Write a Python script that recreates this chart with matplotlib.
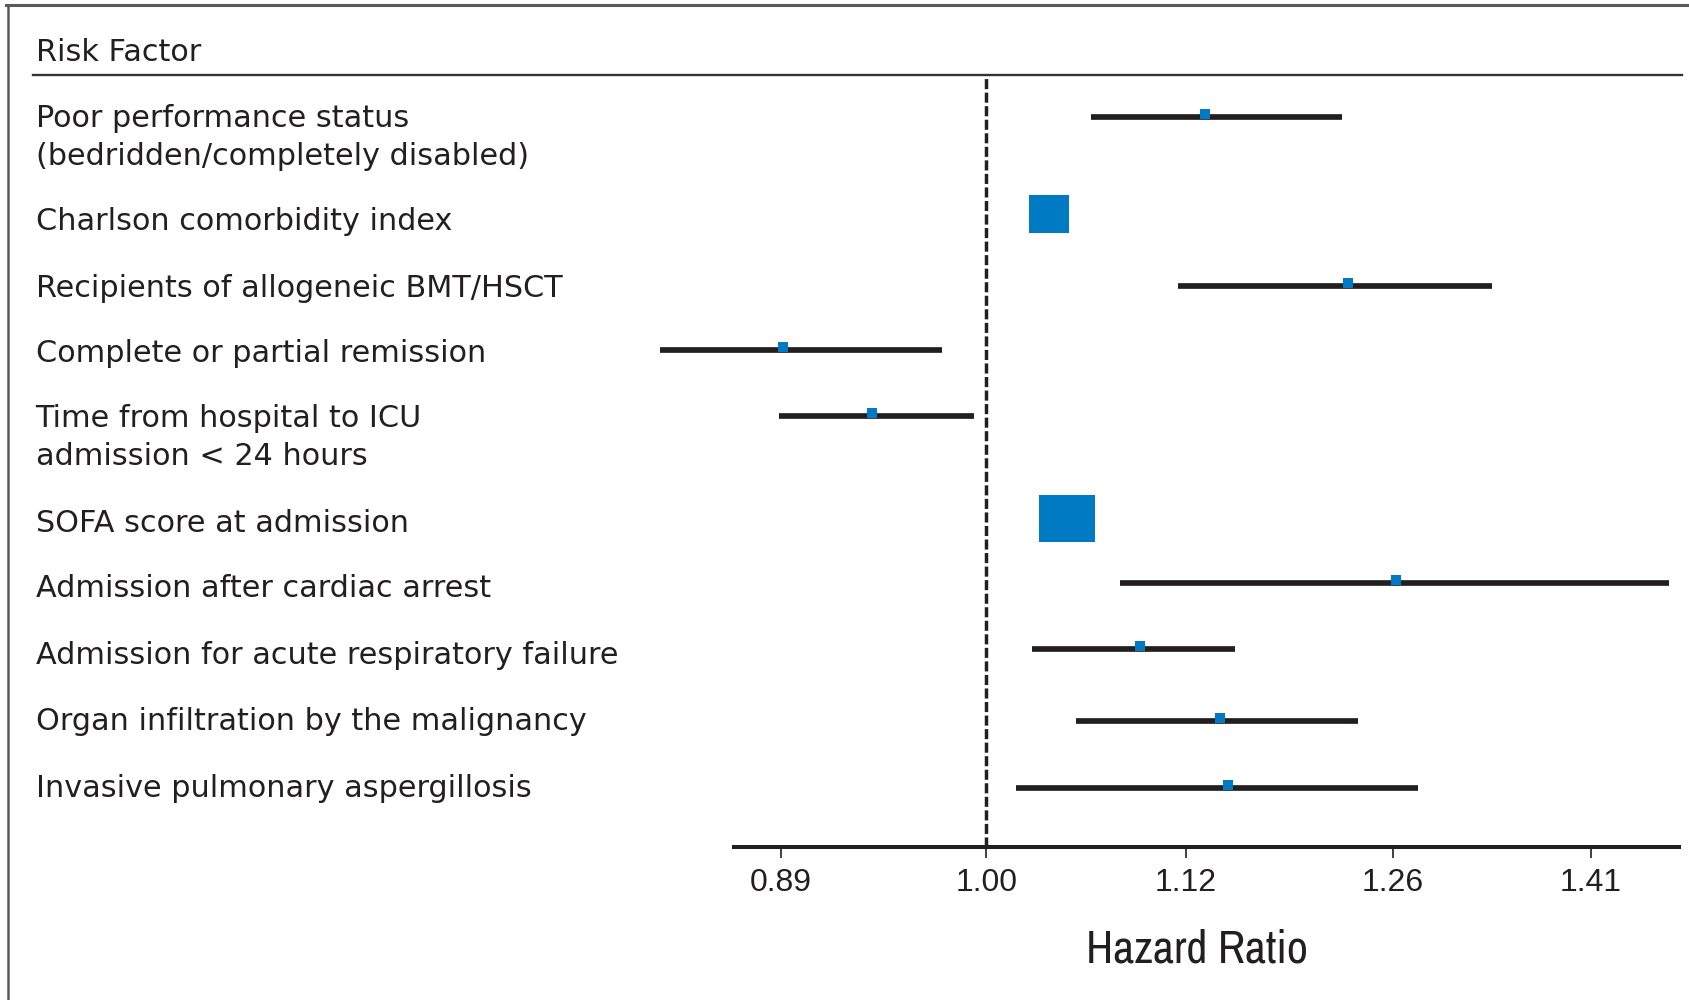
import matplotlib
matplotlib.use("Agg")
import numpy as np
import matplotlib.pyplot as plt
from matplotlib import font_manager as fm
from matplotlib.lines import Line2D
from matplotlib.ticker import FixedLocator, NullLocator
from matplotlib.transforms import ScaledTranslation, blended_transform_factory

# --- data ---
factors = [
    "Poor performance status\n(bedridden/completely disabled)",
    "Charlson comorbidity index",
    "Recipients of allogeneic BMT/HSCT",
    "Complete or partial remission",
    "Time from hospital to ICU\nadmission < 24 hours",
    "SOFA score at admission",
    "Admission after cardiac arrest",
    "Admission for acute respiratory failure",
    "Organ infiltration by the malignancy",
    "Invasive pulmonary aspergillosis",
]
hazard_ratio = [1.132, 1.036, 1.228, 0.891, 0.937, 1.047, 1.262, 1.091, 1.142, 1.147]
ci_low = [1.061, np.nan, 1.115, 0.831, 0.889, np.nan, 1.079, 1.026, 1.052, 1.017]
ci_high = [1.224, np.nan, 1.333, 0.975, 0.993, np.nan, 1.474, 1.152, 1.235, 1.278]
tick_values = [0.89, 1.00, 1.12, 1.26, 1.41]
tick_labels = ["0.89", "1.00", "1.12", "1.26", "1.41"]

# --- layout (pixels from top-left of a 1690x1000 canvas) ---
W, H = 1690, 1000
row_y = [117, 214.5, 286, 350.5, 416.5, 518, 583.5, 649, 721, 788]
label_base = [127.3, 230, 296.7, 362.3, 426.7, 531.7, 596.7, 664, 730, 796.7]
line_gap = 38
big_box = {1: (39.3, 37.7), 5: (56, 47)}  # width, height in px

INK = "#231f20"
BLUE = "#007ac2"


def pick_condensed():
    # a narrow sans for the axis title, if one is installed
    for f in fm.fontManager.ttflist:
        if "Narrow" in f.name or "Condensed" in f.name:
            return f.name, "normal"
    for f in fm.fontManager.ttflist:
        if f.stretch in ("condensed", "semi-condensed", 87, 75) and f.weight in ("normal", 400, "regular"):
            return f.name, f.stretch
    return None, None


cond_family, cond_stretch = pick_condensed()


def fx(px):
    return px / W


def fy(py):
    return 1 - py / H


fig = plt.figure(figsize=(W / 100, H / 100), dpi=100)
fig.patch.set_facecolor("white")

ax_left, ax_right, ax_top, ax_bot = 733.7, 1678.8, 75.3, 846.7
ax = fig.add_axes([fx(ax_left), fy(ax_bot), fx(ax_right - ax_left), (ax_bot - ax_top) / H])
ax.set_xscale("log")
ax.set_xlim(0.8663, 1.482)
ax.set_ylim(ax_bot, ax_top)
ax.patch.set_alpha(0)

for side in ("top", "left", "right"):
    ax.spines[side].set_visible(False)
ax.spines["bottom"].set_linewidth(2.9)
ax.spines["bottom"].set_color(INK)
ax.yaxis.set_visible(False)
ax.xaxis.set_major_locator(FixedLocator(tick_values))
ax.xaxis.set_minor_locator(NullLocator())
ax.set_xticklabels(tick_labels, fontfamily="Liberation Sans", fontsize=23, color=INK)
ax.tick_params(axis="x", direction="out", length=8, width=1.2, color=INK, pad=7)

# reference line at HR = 1
ax.axvline(1.0, color=INK, lw=2.5, linestyle=(0, (2.9, 1.0)), zorder=1)

lift = ax.transData + ScaledTranslation(0, 3 / 100, fig.dpi_scale_trans)
for i, (y, est, lo, hi) in enumerate(zip(row_y, hazard_ratio, ci_low, ci_high)):
    if i in big_box:
        w, h = big_box[i]
        verts = [(-w / 2, -h / 2), (w / 2, -h / 2), (w / 2, h / 2), (-w / 2, h / 2), (-w / 2, -h / 2)]
        ax.plot([est], [y], marker=verts, ms=max(w, h) * 0.72, color=BLUE, mew=0, ls="none",
                zorder=3, clip_on=False)
        continue
    ax.plot([lo, hi], [y, y], color=INK, lw=4.1, solid_capstyle="butt", zorder=2, clip_on=False)
    ax.plot([est], [y], marker="s", ms=7.9, color=BLUE, mew=0, ls="none", zorder=3,
            transform=lift, clip_on=False)

# row labels
lab_tr = blended_transform_factory(fig.transFigure, ax.transData)
for text, base in zip(factors, label_base):
    for k, part in enumerate(text.split("\n")):
        ax.text(fx(35.6), base + k * line_gap, part, transform=lab_tr, ha="left", va="baseline",
                fontsize=21.8, fontfamily="DejaVu Sans", color=INK, clip_on=False)

# header and frame
fig.text(fx(35.6), fy(60.7), "Risk Factor", ha="left", va="baseline",
         fontsize=21.8, fontfamily="DejaVu Sans", color=INK)
fig.add_artist(Line2D([fx(33.4), fx(1682)], [fy(75.3), fy(75.3)], transform=fig.transFigure,
                      color="#333333", lw=1.7))
fig.add_artist(Line2D([fx(6.5), fx(W)], [fy(4.7), fy(4.7)], transform=fig.transFigure,
                      color="#5a5a5a", lw=2.2))
fig.add_artist(Line2D([fx(7.6), fx(7.6)], [fy(4.7), fy(H)], transform=fig.transFigure,
                      color="#5a5a5a", lw=1.8))

if cond_family:
    fig.text(fx(1197), fy(962.7), "Hazard Ratio", ha="center", va="baseline",
             fontsize=33, fontfamily=cond_family, fontstretch=cond_stretch, color=INK)
else:
    fig.text(fx(1197), fy(962.7), "Hazard Ratio", ha="center", va="baseline",
             fontsize=28, fontfamily="Liberation Sans", color=INK)

fig.savefig("out.png", dpi=100, facecolor="white")
